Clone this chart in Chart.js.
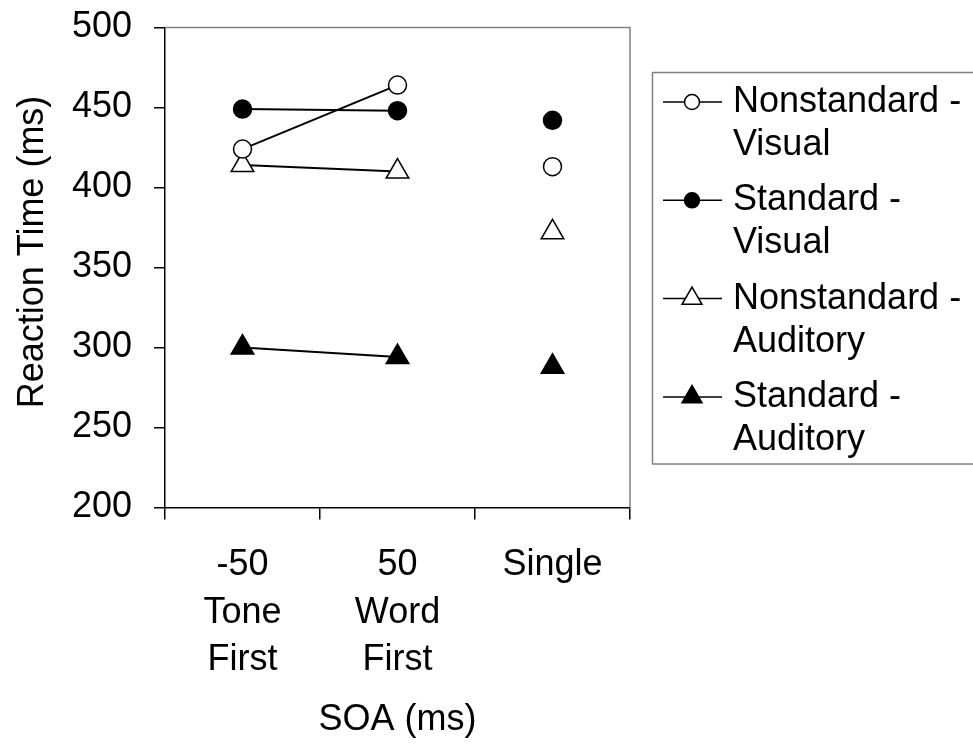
<!DOCTYPE html>
<html>
<head>
<meta charset="utf-8">
<script src="https://cdn.jsdelivr.net/npm/chart.js@4/dist/chart.umd.min.js"></script>
<style>
  html, body { margin: 0; padding: 0; background: #fff; }
  #wrap { width: 973px; height: 750px; }
</style>
</head>
<body>
<div id="wrap"><canvas id="rt" width="973" height="750"></canvas></div>
<script>
// categories on the x axis (SOA)
const categories = [['-50', 'Tone', 'First'], ['50', 'Word', 'First'], 'Single'];

// reaction times (ms)
const nonstdVisual   = [424, 464, 413];
const stdVisual      = [449, 448, 442];
const nonstdAuditory = [414, 410, 372];
const stdAuditory    = [300, 294, 288];

const legendLabels = [
    ['Nonstandard -', 'Visual'],
    ['Standard -', 'Visual'],
    ['Nonstandard -', 'Auditory'],
    ['Standard -', 'Auditory']
];

const yMin = 200, yMax = 500, yStep = 50;
const yTitle = 'Reaction Time (ms)';
const xTitle = 'SOA (ms)';

const FONT = 'Liberation Sans, Arial, sans-serif';

function makeSet(label, values, style, filled){
    return {
        label: label,
        data: values,
        borderColor: '#000',
        borderWidth: 2,
        pointStyle: style,
        pointRadius: style === 'triangle' ? 13 : 9,
        pointBorderWidth: 1.5,
        pointBorderColor: '#000',
        pointBackgroundColor: filled ? '#000' : '#fff',
        // "Single" is not joined to the SOA conditions
        segment: {
            borderColor: ctx => ctx.p1DataIndex === 2 ? 'rgba(0,0,0,0)' : '#000'
        }
    }
}

function drawMarker(ctx, style, filled, x, y, r){
    ctx.beginPath()
    if (style === 'circle'){
        ctx.arc(x, y, r, 0, Math.PI * 2)
    } else {
        let rad = 0
        ctx.moveTo(x + Math.sin(rad) * r, y - Math.cos(rad) * r)
        rad += Math.PI * 2 / 3
        ctx.lineTo(x + Math.sin(rad) * r, y - Math.cos(rad) * r)
        rad += Math.PI * 2 / 3
        ctx.lineTo(x + Math.sin(rad) * r, y - Math.cos(rad) * r)
        ctx.closePath()
    }
    ctx.fillStyle = filled ? '#000' : '#fff'
    ctx.fill()
    ctx.lineWidth = 1.5
    ctx.strokeStyle = '#000'
    ctx.stroke()
}

const extras = {
    id: 'extras',
    afterDraw(chart){
        const ctx = chart.ctx
        const a = chart.chartArea
        ctx.save()

        // grey frame on top and right of plot area
        ctx.strokeStyle = '#808080'
        ctx.lineWidth = 1.5
        ctx.beginPath()
        ctx.moveTo(a.left, a.top)
        ctx.lineTo(a.right, a.top)
        ctx.lineTo(a.right, a.bottom)
        ctx.stroke()

        // rotated y title
        ctx.fillStyle = '#000'
        ctx.font = '36px ' + FONT
        ctx.textAlign = 'center'
        ctx.textBaseline = 'middle'
        ctx.save()
        ctx.translate(33, 252)
        ctx.rotate(-Math.PI / 2)
        ctx.fillText(yTitle, 0, 0)
        ctx.restore()

        // legend box
        ctx.strokeStyle = '#808080'
        ctx.lineWidth = 1.5
        ctx.strokeRect(652.5, 72.5, 340, 391.5)

        ctx.textAlign = 'left'
        chart.data.datasets.forEach((ds, i) => {
            const y0 = 102 + i * 98.3
            ctx.strokeStyle = '#000'
            ctx.lineWidth = 1.5
            ctx.beginPath()
            ctx.moveTo(663, y0)
            ctx.lineTo(722, y0)
            ctx.stroke()
            const filled = ds.pointBackgroundColor === '#000'
            drawMarker(ctx, ds.pointStyle, filled, 692, y0, ds.pointStyle === 'circle' ? 7.5 : 11.5)
            ctx.fillStyle = '#000'
            legendLabels[i].forEach((t, j) => {
                ctx.fillText(t, 733, y0 + j * 43)
            })
        })
        ctx.restore()
    }
}

window.addEventListener('DOMContentLoaded', () => {
    const config = {
        type: 'line',
        data: {
            labels: categories,
            datasets: [
                makeSet('Nonstandard - Visual', nonstdVisual, 'circle', false),
                makeSet('Standard - Visual', stdVisual, 'circle', true),
                makeSet('Nonstandard - Auditory', nonstdAuditory, 'triangle', false),
                makeSet('Standard - Auditory', stdAuditory, 'triangle', true)
            ]
        },
        options: {
            responsive: false,
            animation: false,
            events: [],
            layout: { padding: { top: 27.5, right: 343, left: 0, bottom: 0 } },
            plugins: {
                legend: { display: false },
                tooltip: { enabled: false }
            },
            scales: {
                x: {
                    offset: true,
                    grid: {
                        offset: true,
                        drawOnChartArea: false,
                        drawTicks: true,
                        tickLength: 12,
                        color: '#000',
                        lineWidth: 1.5
                    },
                    border: { color: '#000', width: 1.5 },
                    ticks: {
                        color: '#000',
                        padding: 22,
                        maxRotation: 0,
                        autoSkip: false,
                        font: { family: FONT, size: 36, lineHeight: 1.32 }
                    },
                    title: {
                        display: true,
                        text: xTitle,
                        color: '#000',
                        padding: { top: 0, bottom: 8 },
                        font: { family: FONT, size: 36 }
                    },
                    afterFit: s => { s.height = 242.5 }
                },
                y: {
                    min: yMin,
                    max: yMax,
                    ticks: {
                        stepSize: yStep,
                        color: '#000',
                        padding: 22,
                        font: { family: FONT, size: 36 }
                    },
                    grid: {
                        drawOnChartArea: false,
                        tickLength: 11,
                        color: '#000',
                        lineWidth: 1.5
                    },
                    border: { color: '#000', width: 1.5 },
                    afterFit: s => {
                        s.width = 165
                        s.paddingTop = 0
                        s.paddingBottom = 0
                    }
                }
            }
        },
        plugins: [extras]
    }
    new Chart(document.querySelector('#rt'), config)
})
</script>
</body>
</html>
